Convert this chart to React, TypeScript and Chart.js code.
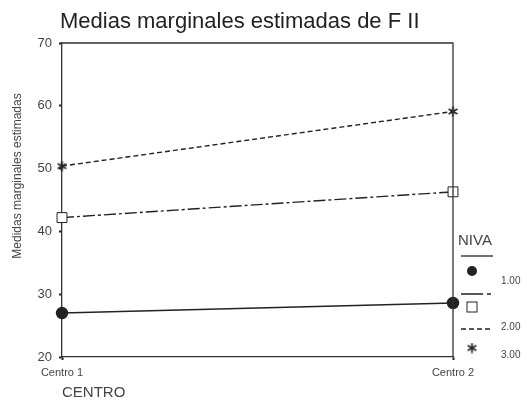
import React, { useEffect, useRef } from "react";
import { Chart, registerables } from "chart.js";

Chart.register(...registerables);

const categories = ["Centro 1", "Centro 2"];
const nivaLabels = ["1.00", "2.00", "3.00"];
const niva1 = [27.0, 28.6];
const niva2 = [42.2, 46.3];
const niva3 = [50.4, 59.1];
const yTicks = { min: 20, max: 70, step: 10 };

const chartTitle = "Medias marginales estimadas de F II";
const yTitle = "Medidas marginales estimadas";
const xTitle = "CENTRO";
const legendTitle = "NIVA";

const FONT = "'Liberation Sans', Arial, sans-serif";
const INK = "#222";
const TEXT = "#444";

const dashPatterns = [[], [12, 3, 3, 3], [5, 3]];

// six-armed asterisk marker
function makeStar(size: number): HTMLCanvasElement {
  const c = document.createElement("canvas");
  c.width = size;
  c.height = size;
  const g = c.getContext("2d")!;
  const r = size / 2 - 0.5;
  g.strokeStyle = INK;
  g.lineWidth = 1.7;
  g.translate(size / 2, size / 2);
  for (const a of [90, 30, -30]) {
    const rad = (a * Math.PI) / 180;
    g.beginPath();
    g.moveTo(-Math.cos(rad) * r, -Math.sin(rad) * r);
    g.lineTo(Math.cos(rad) * r, Math.sin(rad) * r);
    g.stroke();
  }
  return c;
}

export default function App() {
  const ref = useRef<HTMLCanvasElement | null>(null);

  useEffect(() => {
    const canvas = ref.current;
    if (!canvas) return;
    const star = makeStar(11);

    const decor = {
      id: "decor",
      afterDraw(chart: any) {
        const { ctx, chartArea } = chart;
        ctx.save();
        // frame top and right
        ctx.strokeStyle = "#333";
        ctx.lineWidth = 1.3;
        ctx.beginPath();
        ctx.moveTo(chartArea.left, chartArea.top);
        ctx.lineTo(chartArea.right, chartArea.top);
        ctx.lineTo(chartArea.right, chartArea.bottom);
        ctx.stroke();

        // title
        ctx.fillStyle = INK;
        ctx.font = `22px ${FONT}`;
        ctx.textAlign = "left";
        ctx.textBaseline = "middle";
        ctx.fillText(chartTitle, 60, 22);

        // y title
        ctx.save();
        ctx.translate(18, 176);
        ctx.rotate(-Math.PI / 2);
        ctx.fillStyle = TEXT;
        ctx.font = `12px ${FONT}`;
        ctx.textAlign = "center";
        ctx.fillText(yTitle, 0, 0);
        ctx.restore();

        // legend
        ctx.fillStyle = TEXT;
        ctx.font = `15px ${FONT}`;
        ctx.textAlign = "left";
        ctx.fillText(legendTitle, 458, 241);
        const rows = [256, 294, 329];
        const marks = [271, 307, 348];
        const labs = [281, 327, 355];
        ctx.font = `10px ${FONT}`;
        for (let i = 0; i < 3; i++) {
          ctx.save();
          ctx.strokeStyle = INK;
          ctx.lineWidth = 1.3;
          ctx.setLineDash(i === 0 ? [] : i === 1 ? [22, 4, 4, 4] : [5, 3]);
          ctx.beginPath();
          ctx.moveTo(461, rows[i]);
          ctx.lineTo(493, rows[i]);
          ctx.stroke();
          ctx.restore();
          const mx = 472;
          const my = marks[i];
          if (i === 0) {
            ctx.fillStyle = INK;
            ctx.beginPath();
            ctx.arc(mx, my, 5, 0, Math.PI * 2);
            ctx.fill();
          } else if (i === 1) {
            ctx.fillStyle = "#fff";
            ctx.strokeStyle = INK;
            ctx.lineWidth = 1;
            ctx.fillRect(mx - 5, my - 5, 10, 10);
            ctx.strokeRect(mx - 5, my - 5, 10, 10);
          } else {
            ctx.drawImage(star, mx - 5.5, my - 5.5);
          }
          ctx.fillStyle = TEXT;
          ctx.fillText(nivaLabels[i], 501, labs[i]);
        }
        ctx.restore();
      },
    };

    const ds = (data: number[], i: number, extra: any) => ({
      label: nivaLabels[i],
      data,
      borderColor: INK,
      borderWidth: 1.4,
      borderDash: dashPatterns[i],
      backgroundColor: INK,
      pointBorderColor: INK,
      tension: 0,
      fill: false,
      clip: false,
      ...extra,
    });

    const chart = new Chart(canvas, {
      type: "line",
      data: {
        labels: categories,
        datasets: [
          ds(niva1, 0, { pointStyle: "circle", pointRadius: 5.5, pointBackgroundColor: INK }),
          ds(niva2, 1, {
            pointStyle: "rect",
            pointRadius: 7,
            pointBackgroundColor: "#fff",
            pointBorderWidth: 1,
          }),
          ds(niva3, 2, { pointStyle: star, pointRadius: 6 }),
        ],
      },
      options: {
        responsive: false,
        animation: false,
        layout: { padding: { top: 43, right: 74, left: 0, bottom: 0 } },
        plugins: {
          legend: { display: false },
          title: { display: false },
          tooltip: { enabled: false },
        },
        scales: {
          x: {
            type: "category",
            offset: false,
            afterFit: (s: any) => {
              s.height = 43;
            },
            grid: {
              display: true,
              drawOnChartArea: false,
              drawTicks: true,
              tickLength: 3,
              tickWidth: 2,
              tickColor: INK,
            },
            border: { display: true, color: "#333", width: 1.3 },
            ticks: {
              color: TEXT,
              font: { family: FONT, size: 11 },
              padding: 6,
              maxRotation: 0,
              autoSkip: false,
            },
            title: {
              display: true,
              text: xTitle,
              align: "start",
              color: TEXT,
              font: { family: FONT, size: 15, lineHeight: 1 },
              padding: { top: 0, bottom: 0 },
            },
          },
          y: {
            min: yTicks.min,
            max: yTicks.max,
            afterFit: (s: any) => {
              s.width = 62;
            },
            grid: {
              display: true,
              drawOnChartArea: false,
              drawTicks: true,
              tickLength: 3,
              tickWidth: 2,
              tickColor: INK,
            },
            border: { display: true, color: "#333", width: 1.3 },
            ticks: {
              stepSize: yTicks.step,
              color: TEXT,
              font: { family: FONT, size: 13 },
              padding: 7,
            },
          },
        },
      },
      plugins: [decor],
    });
    return () => chart.destroy();
  }, []);

  return (
    <div style={{ position: "fixed", left: 0, top: 0, width: 527, height: 400, background: "#fff" }}>
      <canvas ref={ref} width={527} height={400} />
    </div>
  );
}
